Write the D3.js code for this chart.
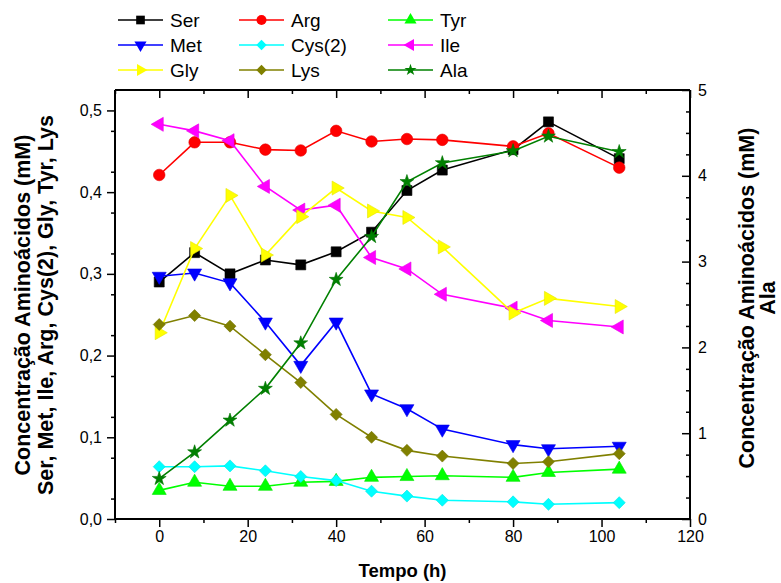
<!DOCTYPE html>
<html>
<head>
<meta charset="utf-8">
<script src="https://cdn.jsdelivr.net/npm/d3@7"></script>
<style>
  html, body { margin: 0; padding: 0; background: #fff; }
  svg text { font-family: "Liberation Sans", Arial, sans-serif; fill: #000; }
</style>
</head>
<body>
<svg id="chart" width="781" height="583"></svg>
<script>
// Sampling times (h)
const tempo = [0, 8, 16, 24, 32, 40, 48, 56, 64, 80, 88, 104];

// Concentrations (mM) — left axis
const ser = [0.290, 0.326, 0.300, 0.317, 0.311, 0.327, 0.351, 0.402, 0.427, 0.452, 0.486, 0.441];
const arg = [0.421, 0.461, 0.461, 0.452, 0.451, 0.475, 0.462, 0.465, 0.464, 0.456, 0.472, 0.430];
const tyr = [0.035, 0.045, 0.040, 0.040, 0.045, 0.046, 0.051, 0.052, 0.053, 0.051, 0.057, 0.061];
const met = [0.297, 0.301, 0.289, 0.241, 0.188, 0.241, 0.153, 0.135, 0.110, 0.091, 0.086, 0.089];
const cys = [0.064, 0.064, 0.065, 0.059, 0.052, 0.047, 0.034, 0.028, 0.023, 0.021, 0.018, 0.020];
const ile = [0.483, 0.475, 0.463, 0.407, 0.378, 0.384, 0.320, 0.306, 0.275, 0.258, 0.243, 0.235];
const gly = [0.228, 0.331, 0.396, 0.323, 0.370, 0.405, 0.377, 0.369, 0.333, 0.252, 0.270, 0.260];
const lys = [0.238, 0.249, 0.236, 0.201, 0.167, 0.128, 0.100, 0.084, 0.077, 0.068, 0.070, 0.080];

// Concentration (mM) — right axis
const ala = [0.47, 0.78, 1.15, 1.52, 2.05, 2.79, 3.29, 3.93, 4.15, 4.29, 4.46, 4.28];

// Axis tick values and labels
const xTicks = [0, 20, 40, 60, 80, 100, 120];
const yLeftTicks = [0, 0.1, 0.2, 0.3, 0.4, 0.5];
const yLeftLabels = ["0,0", "0,1", "0,2", "0,3", "0,4", "0,5"];
const yRightTicks = [0, 1, 2, 3, 4, 5];

const names   = ["Ser", "Arg", "Tyr", "Met", "Cys(2)", "Ile", "Gly", "Lys", "Ala"];
const colors  = ["#000000", "#ff0000", "#00ff00", "#0000ff", "#00ffff", "#ff00ff", "#ffff00", "#808000", "#008000"];
const values  = [ser, arg, tyr, met, cys, ile, gly, lys, ala];
const markers = ["square", "circle", "up", "down", "diamond", "left", "right", "diamond", "star"];
const axisOf  = ["L", "L", "L", "L", "L", "L", "L", "L", "R"];

const svg = d3.select("#chart");
const pLeft = 115, pRight = 690, pTop = 90, pBottom = 519;

const x  = d3.scaleLinear().domain([-10, 120]).range([pLeft, pRight]);
const yL = d3.scaleLinear().domain([0, 0.525]).range([pBottom, pTop]);
const yR = d3.scaleLinear().domain([0, 5]).range([pBottom, pTop]);

// Marker path generator
function markerPath(kind, scale) {
  const s = scale || 1;
  switch (kind) {
    case "square":  return { d: d3.symbol(d3.symbolSquare, 100 * s)(), rot: 0 };
    case "circle":  return { d: d3.symbol(d3.symbolCircle, 105 * s)(), rot: 0 };
    case "up":      return { d: d3.symbol(d3.symbolTriangle, 85 * s)(), rot: 0 };
    case "down":    return { d: d3.symbol(d3.symbolTriangle, 85 * s)(), rot: 180 };
    case "left":    return { d: d3.symbol(d3.symbolTriangle, 85 * s)(), rot: -90 };
    case "right":   return { d: d3.symbol(d3.symbolTriangle, 85 * s)(), rot: 90 };
    case "diamond": return { d: d3.symbol(d3.symbolSquare, 72 * s)(), rot: 45 };
    case "star":    return { d: d3.symbol(d3.symbolStar, 60 * s)(), rot: 0 };
  }
}

// Axes
const fontTick = 16;
const xMinorTicks = d3.range(-10, 121, 10).filter(v => v % 20 !== 0);
const gx = svg.append("g").attr("transform", `translate(0,${pBottom})`)
  .call(d3.axisBottom(x).tickValues(xTicks).tickSize(8).tickPadding(4).tickFormat(d3.format("d")));
const gxMinor = svg.append("g").attr("transform", `translate(0,${pBottom})`)
  .call(d3.axisBottom(x).tickValues(xMinorTicks).tickSize(4).tickFormat(""));
const gxTop = svg.append("g").attr("transform", `translate(0,${pTop})`)
  .call(d3.axisBottom(x).tickValues(xTicks).tickSize(8).tickFormat(""));
const gxTopMinor = svg.append("g").attr("transform", `translate(0,${pTop})`)
  .call(d3.axisBottom(x).tickValues(xMinorTicks).tickSize(4).tickFormat(""));

const gyL = svg.append("g").attr("transform", `translate(${pLeft},0)`)
  .call(d3.axisLeft(yL).tickValues(yLeftTicks).tickSize(8).tickPadding(5)
    .tickFormat((d, i) => yLeftLabels[i]));
const gyLMinor = svg.append("g").attr("transform", `translate(${pLeft},0)`)
  .call(d3.axisLeft(yL).tickValues(d3.range(0.025, 0.525, 0.05)).tickSize(4).tickFormat(""));

const gyR = svg.append("g").attr("transform", `translate(${pRight},0)`)
  .call(d3.axisLeft(yR).tickValues(yRightTicks).tickSize(8).tickFormat(""));
const gyRMinor = svg.append("g").attr("transform", `translate(${pRight},0)`)
  .call(d3.axisLeft(yR).tickValues(d3.range(0.25, 5, 0.25).filter(v => v % 1 !== 0)).tickSize(4).tickFormat(""));
// Right-side labels sit outside the frame while ticks point inward
const gyRLabels = svg.append("g").attr("transform", `translate(${pRight},0)`)
  .call(d3.axisRight(yR).tickValues(yRightTicks).tickSize(0).tickPadding(8).tickFormat(d3.format("d")));
gyRLabels.select(".domain").remove();

[gx, gxMinor, gxTop, gxTopMinor, gyL, gyLMinor, gyR, gyRMinor, gyRLabels].forEach(g => {
  g.selectAll(".domain").attr("stroke", "#000").attr("stroke-width", 2);
  g.selectAll(".tick line").attr("stroke", "#000").attr("stroke-width", 1.5);
  g.selectAll(".tick text").attr("font-size", fontTick)
    .attr("font-family", "Liberation Sans, Arial, sans-serif").attr("fill", "#000");
});
[gxMinor, gxTopMinor, gyLMinor, gyRMinor].forEach(g => g.select(".domain").remove());
gxTop.select(".domain").attr("d", `M${pLeft},0H${pRight}`);
gx.select(".domain").attr("d", `M${pLeft},0H${pRight}`);
gyL.select(".domain").attr("d", `M0,${pTop}V${pBottom}`);
gyR.select(".domain").attr("d", `M0,${pTop}V${pBottom}`);

// Series
const plot = svg.append("g");
values.forEach((vals, si) => {
  const ys = axisOf[si] === "L" ? yL : yR;
  const pts = tempo.map((t, i) => [x(t), ys(vals[i])]);
  plot.append("path")
    .attr("d", d3.line()(pts))
    .attr("fill", "none")
    .attr("stroke", colors[si])
    .attr("stroke-width", 1.6);
  const m = markerPath(markers[si]);
  plot.selectAll(null).data(pts).enter().append("path")
    .attr("d", m.d)
    .attr("transform", p => `translate(${p[0]},${p[1]}) rotate(${m.rot})`)
    .attr("fill", colors[si])
    .attr("stroke", d3.color(colors[si]).darker(0.3))
    .attr("stroke-width", 0.6);
});

// Axis titles
svg.append("text")
  .attr("x", (pLeft + pRight) / 2).attr("y", 577)
  .attr("text-anchor", "middle").attr("font-weight", "bold").attr("font-size", 18.5)
  .text("Tempo (h)");

const leftTitle = svg.append("text")
  .attr("transform", `translate(30,305) rotate(-90)`)
  .attr("text-anchor", "middle").attr("font-weight", "bold").attr("font-size", 21.5);
leftTitle.append("tspan").attr("x", 0).attr("y", 0).text("Concentração Aminoácidos (mM)");
leftTitle.append("tspan").attr("x", 0).attr("y", 23).text("Ser, Met, Ile, Arg, Cys(2), Gly, Tyr, Lys");

const rightTitle = svg.append("text")
  .attr("transform", `translate(754,298) rotate(-90)`)
  .attr("text-anchor", "middle").attr("font-weight", "bold").attr("font-size", 21.5);
rightTitle.append("tspan").attr("x", 0).attr("y", 0).text("Concentração Aminoácidos (mM)");
rightTitle.append("tspan").attr("x", 0).attr("y", 21).text("Ala");

// Legend (3 columns x 3 rows)
const colX = [118, 239, 388];
const rowY = [20, 45, 70];
names.forEach((name, si) => {
  const cx = colX[si % 3], cy = rowY[Math.floor(si / 3)];
  const g = svg.append("g").attr("transform", `translate(${cx},${cy})`);
  g.append("line").attr("x1", 0).attr("x2", 45).attr("y1", 0).attr("y2", 0)
    .attr("stroke", colors[si]).attr("stroke-width", 1.6);
  const m = markerPath(markers[si], 0.75);
  g.append("path").attr("d", m.d)
    .attr("transform", `translate(22.5,0) rotate(${m.rot})`)
    .attr("fill", colors[si]);
  g.append("text").attr("x", 52).attr("y", 7).attr("font-size", 19).text(name);
});
</script>
</body>
</html>
